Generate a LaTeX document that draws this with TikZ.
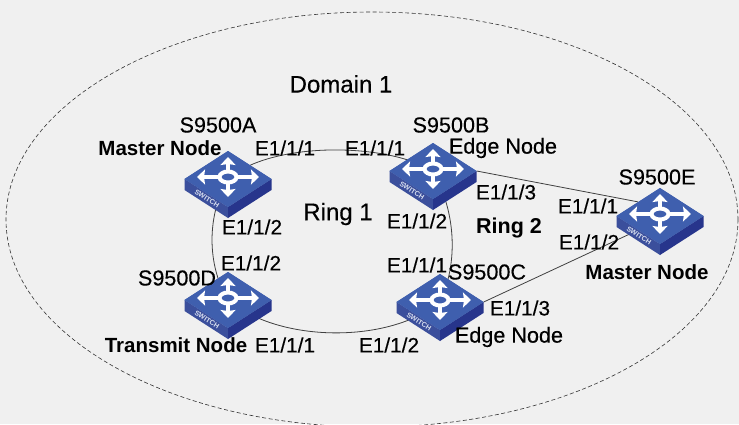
\documentclass[tikz,border=0pt]{standalone}
\usepackage{fontspec}
\setmainfont{Liberation Sans}
\newfontfamily\heavyfont[FakeBold=0.35]{Liberation Sans}
\usetikzlibrary{arrows.meta,shapes.geometric,backgrounds}
\definecolor{pagegray}{HTML}{F0F0F0}
\definecolor{faceblue}{HTML}{3F5FAE}
\definecolor{sideblue}{HTML}{3B4F9C}
\definecolor{darkblue}{HTML}{27358C}
\tikzset{
  switchface/.style={shape=diamond,fill=faceblue,inner sep=0pt,minimum width=87pt,minimum height=56pt},
  lbl/.style={inner sep=0pt,font=\heavyfont\fontsize{20.8}{24}\selectfont},
  namelbl/.style={inner sep=0pt,font=\heavyfont\fontsize{21.6}{24}\selectfont},
  rolelbl/.style={inner sep=0pt,font=\fontsize{20.5}{24}\selectfont\bfseries},
  link/.style={draw=black!75,line width=0.8pt},
  whitearrow/.style={draw=white,line width=4.5pt,-{Stealth[inset=1pt,length=8pt,width=15pt,fill=white]}},
  switchicon/.pic={
    \fill[sideblue] (-43.5,0) -- (0,28) -- (0,39) -- (-43.5,11) -- cycle;
    \fill[darkblue] (43.5,0) -- (0,28) -- (0,39) -- (43.5,11) -- cycle;
    \fill[faceblue] (-43.5,0) -- (0,-28) -- (43.5,0) -- (0,28) -- cycle;
    \draw[whitearrow] (8,-2) -- (31,-2);
    \draw[whitearrow] (-8,-2) -- (-31,-2);
    \draw[whitearrow] (0,-7) -- (0,-22);
    \draw[whitearrow] (0,3) -- (0,18);
    \draw[white,line width=4pt,fill=faceblue] (0,-2) ellipse (8.5 and 5.5);
    \node[text=white!80!faceblue,rotate=-32,font=\fontsize{7}{8}\selectfont\bfseries] at (-21,19.5) {SWITCH};
  }
}
\newcommand{\switchat}[2]{\node[switchface] (#1) at (#2) {}; \pic at (#2) {switchicon};}
\begin{document}
\begin{tikzpicture}[x=1pt,y=-1pt]
  \useasboundingbox (0,0) rectangle (739,424);
  % switches
  \switchat{swA}{228,179}
  \switchat{swB}{433,171}
  \switchat{swC}{440,302}
  \switchat{swD}{228,300}
  \switchat{swE}{660,216}
  % links and domain behind the switches
  \begin{pgfonlayer}{background}
    \fill[pagegray] (0,0) rectangle (739,424);
    \draw[black!80,line width=0.6pt,dash pattern=on 4pt off 2.5pt] (372,219.5) ellipse (366 and 207.5);
    \draw[link] (swA.center) .. controls (270,141.7) and (385,141.7) .. (swB.center);
    \draw[link] (swB.center) .. controls (457.3,215) and (457.3,265) .. (swC.center);
    \draw[link] (swC.center) .. controls (390,343.5) and (280,343.5) .. (swD.center);
    \draw[link] (swD.center) .. controls (206.7,265) and (206.7,215) .. (swA.center);
    \draw[link] (swB.east) -- (swE.north west);
    \draw[link] (swC.east) -- (swE.south west);
  \end{pgfonlayer}
  % titles
  \node[inner sep=0pt,font=\heavyfont\fontsize{24}{26}\selectfont] (domain) at (341,84) {Domain 1};
  \node[inner sep=0pt,font=\heavyfont\fontsize{24}{26}\selectfont] (ring1) at (338,214) {Ring 1};
  \node[inner sep=0pt,font=\fontsize{21.5}{24}\selectfont\bfseries] (ring2) at (509,228) {Ring 2};
  % names
  \node[namelbl] (nameA) at (218,125) {S9500A};
  \node[namelbl] (nameB) at (451,125) {S9500B};
  \node[namelbl] (nameC) at (487,272) {S9500C};
  \node[namelbl] (nameD) at (177,278) {S9500D};
  \node[namelbl] (nameE) at (657,177) {S9500E};
  % roles
  \node[rolelbl] (roleA) at (160,148) {Master Node};
  \node[namelbl] (roleB) at (503,148) {Edge Node};
  \node[namelbl] (roleC) at (509,337) {Edge Node};
  \node[rolelbl] (roleD) at (176,345) {Transmit Node};
  \node[rolelbl] (roleE) at (647,272) {Master Node};
  % ports
  \node[lbl] (a1) at (285,148) {E1/1/1};
  \node[lbl] (a2) at (252,227) {E1/1/2};
  \node[lbl] (b1) at (375,148) {E1/1/1};
  \node[lbl] (b2) at (417,221) {E1/1/2};
  \node[lbl] (b3) at (506,192) {E1/1/3};
  \node[lbl] (c1) at (417,265) {E1/1/1};
  \node[lbl] (c2) at (389,345) {E1/1/2};
  \node[lbl] (c3) at (520,308) {E1/1/3};
  \node[lbl] (d1) at (285,345) {E1/1/1};
  \node[lbl] (d2) at (251,263) {E1/1/2};
  \node[lbl] (e1) at (588,206) {E1/1/1};
  \node[lbl] (e2) at (589,242) {E1/1/2};
\end{tikzpicture}
\end{document}
